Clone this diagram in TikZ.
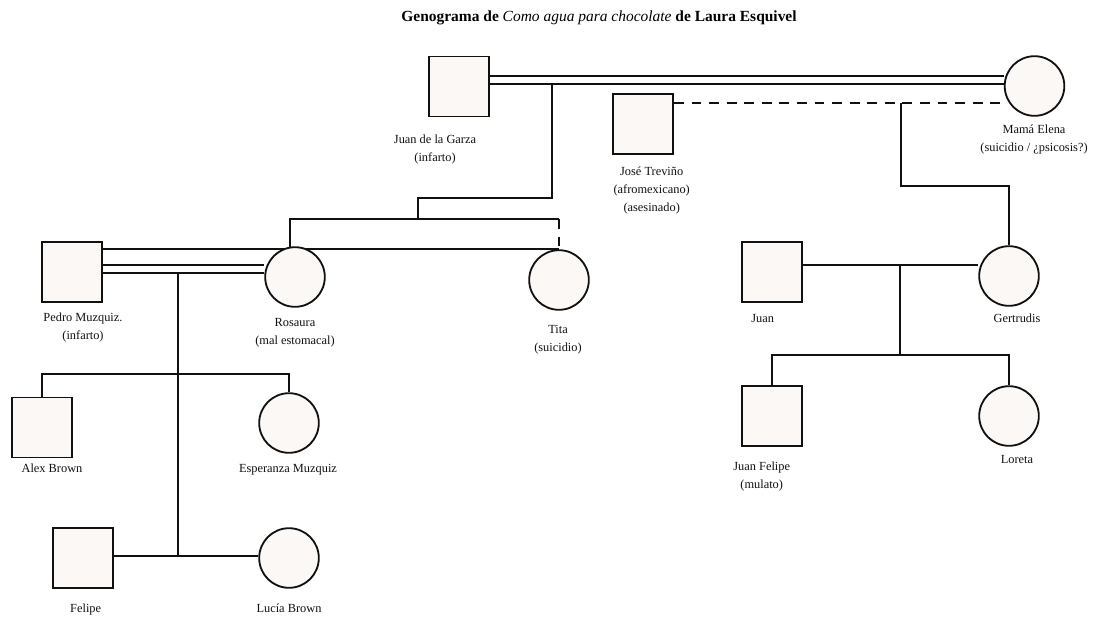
\documentclass[tikz,border=0pt]{standalone}
\usepackage{fontspec}
\setmainfont{Liberation Serif}
\usetikzlibrary{backgrounds}
\definecolor{genoink}{HTML}{111111}
\definecolor{genofill}{HTML}{FCF8F6}

\begin{document}
\begin{tikzpicture}[x=0.025cm,y=-0.025cm,line width=1.3pt,
    male/.style={draw=genoink,fill=genofill,rectangle,minimum size=1.5cm,inner sep=0pt},
    female/.style={draw=genoink,fill=genofill,circle,minimum size=1.49cm,inner sep=0pt},
    who/.style={anchor=base,align=center,inner sep=0pt,text=genoink,
      font=\fontsize{8.8}{12.8}\selectfont},
    tie/.style={draw=genoink,line width=1.3pt},
    marriage/.style={draw=genoink,line width=1.3pt,double=white,double distance=4.6pt},
    affair/.style={draw=genoink,line width=1.3pt,dash pattern=on 7pt off 5.5pt}]
    \path[use as bounding box] (0,0) rectangle (1109,618);

    \node[anchor=base,inner sep=0pt,font=\fontsize{11}{13}\selectfont\bfseries] (title) at (599,21)
      {Genograma de {\mdseries\itshape Como agua para chocolate} de Laura Esquivel};

    % First generation: the De la Garza marriage and Treviño.
    \node[male] (garza) at (459,86.5) {};
    \node[female] (elena) at (1034.5,86) {};
    \node[male] (jose) at (643,124) {};

    % Second generation.
    \node[male] (pedro) at (71.7,272) {};
    \node[female] (rosaura) at (295,277) {};
    \node[female] (tita) at (559,280) {};
    \node[male] (juan) at (772,272) {};
    \node[female] (gertrudis) at (1009,276) {};

    % Third generation and the Brown family.
    \node[male] (alex) at (42.3,427.5) {};
    \node[female] (esperanza) at (289,423) {};
    \node[male] (felipe) at (83,558) {};
    \node[female] (lucia) at (289,558) {};
    \node[male] (juanfelipe) at (772,416) {};
    \node[female] (loreta) at (1009,416) {};

    % Names sit on the baseline of their last line.
    \node[who] (garzaL) at (435,161) {Juan de la Garza\\(infarto)};
    \node[who] (joseL) at (651.7,211) {José Treviño\\(afromexicano)\\(asesinado)};
    \node[who] (elenaL) at (1034,151) {Mamá Elena\\(suicidio / ¿psicosis?)};
    \node[who] (pedroL) at (83,339) {Pedro Muzquiz.\\(infarto)};
    \node[who] (rosauraL) at (295,344) {Rosaura\\(mal estomacal)};
    \node[who] (titaL) at (558,351) {Tita\\(suicidio)};
    \node[who] (juanL) at (762.7,322) {Juan};
    \node[who] (gertrudisL) at (1017,322) {Gertrudis};
    \node[who] (juanfelipeL) at (761.7,488) {Juan Felipe\\(mulato)};
    \node[who] (loretaL) at (1017,463) {Loreta};
    \node[who] (alexL) at (52,472) {Alex Brown};
    \node[who] (esperanzaL) at (288,472) {Esperanza Muzquiz};
    \node[who] (felipeL) at (85.7,612) {Felipe};
    \node[who] (luciaL) at (289,612) {Lucía Brown};

    \coordinate (garzaElena) at (551.7,80);
    \coordinate (garzaStep) at (551.7,197.7);
    \coordinate (garzaKids) at (418.3,219);
    \coordinate (joseElena) at (900.7,103.3);
    \coordinate (elenaStep) at (900.7,186);
    \coordinate (pedroRosaura) at (177.7,268.8);
    \coordinate (pedroKids) at (177.7,374.3);
    \coordinate (felipeLucia) at (177.7,556);
    \coordinate (juanGertrudis) at (900,265);
    \coordinate (juanKids) at (900,355);

    % Lines go behind the symbols, descents before the double marriage lines.
    \begin{scope}[on background layer]
      \draw[tie] (garzaElena) -- (garzaStep) -| (garzaKids);
      \draw[tie] (rosaura.100) |- (garzaKids) -- (tita.north |- garzaKids);
      \draw[affair] (tita.north |- garzaKids) -- (tita.north);
      \draw[marriage] (garza.east |- garzaElena) -- (elena.west |- garzaElena);
      \draw[affair] (jose.east |- joseElena) -- (elena.west |- joseElena);
      \draw[tie] (joseElena) -- (elenaStep) -| (gertrudis.north);

      \draw[tie] (pedroRosaura) -- (felipeLucia);
      \draw[tie] (pedro.east |- tita.north) -- (tita.north);
      \draw[marriage] (pedro.east |- pedroRosaura) -- (rosaura.west |- pedroRosaura);
      \draw[tie] (alex.north) |- (pedroKids) -| (esperanza.north);
      \draw[tie] (felipe.east |- felipeLucia) -- (lucia.west |- felipeLucia);

      \draw[tie] (juan.east |- juanGertrudis) -- (gertrudis.west |- juanGertrudis);
      \draw[tie] (juanGertrudis) -- (juanKids);
      \draw[tie] (juanfelipe.north) |- (juanKids) -| (loreta.north);
    \end{scope}
\end{tikzpicture}
\end{document}
